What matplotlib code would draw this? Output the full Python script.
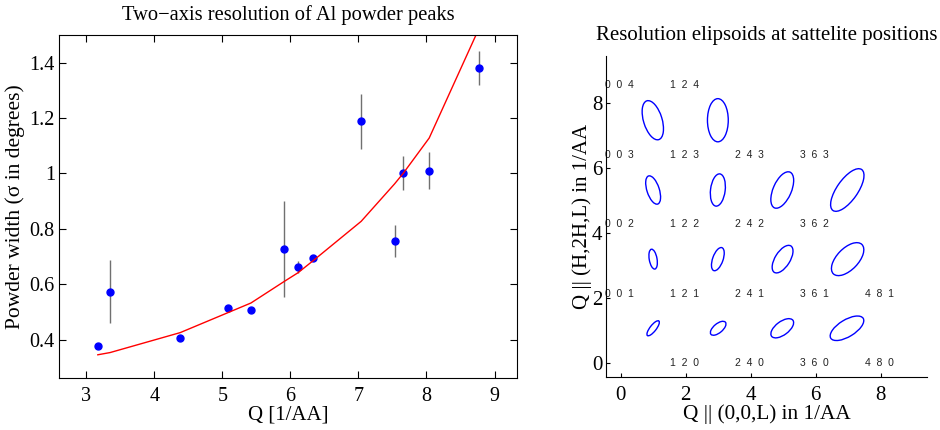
import numpy as np
from matplotlib import pyplot as plt
from matplotlib.patches import Ellipse

# --- left panel: powder peak widths ---
q_vals = [3.17, 3.35, 4.38, 5.09, 5.42, 5.91, 6.11, 6.33, 7.04, 7.53, 7.66, 8.04, 8.77]
width_meas = [0.377, 0.573, 0.404, 0.513, 0.507, 0.727, 0.662, 0.696, 1.188, 0.756, 1.001, 1.010, 1.381]
width_err = [0.005, 0.113, 0.004, 0.006, 0.006, 0.174, 0.020, 0.010, 0.098, 0.058, 0.061, 0.068, 0.062]
width_calc = [0.345, 0.353, 0.425, 0.498, 0.532, 0.610, 0.641, 0.684, 0.827, 0.962, 1.001, 1.128, 1.523]

# --- right panel: satellite labels and resolution ellipses ---
sat_labels = ["0  0  4", "1  2  4",
              "0  0  3", "1  2  3", "2  4  3", "3  6  3",
              "0  0  2", "1  2  2", "2  4  2", "3  6  2",
              "0  0  1", "1  2  1", "2  4  1", "3  6  1", "4  8  1",
              "1  2  0", "2  4  0", "3  6  0", "4  8  0"]
sat_x = [0, 2, 0, 2, 4, 6, 0, 2, 4, 6, 0, 2, 4, 6, 8, 2, 4, 6, 8]
sat_y = [8.54, 8.54, 6.41, 6.41, 6.41, 6.41, 4.27, 4.27, 4.27, 4.27,
         2.13, 2.13, 2.13, 2.13, 2.13, 0.0, 0.0, 0.0, 0.0]

ell_x = [1.00, 3.00, 4.97, 6.96,
         1.00, 2.99, 4.98, 6.98,
         1.00, 2.99, 4.97, 6.97,
         0.99, 2.99]
ell_y = [1.06, 1.06, 1.06, 1.06,
         3.19, 3.19, 3.19, 3.19,
         5.32, 5.32, 5.32, 5.32,
         7.47, 7.47]
ell_major = [0.57, 0.58, 0.82, 1.17,
             0.62, 0.75, 0.96, 1.26,
             0.91, 1.00, 1.20, 1.54,
             1.25, 1.33]
ell_minor = [0.19, 0.28, 0.41, 0.52,
             0.24, 0.32, 0.46, 0.66,
             0.38, 0.45, 0.56, 0.64,
             0.57, 0.64]
ell_angle = [52, 40, 37, 31.5,
             100, 70.5, 58, 46,
             108, 83, 66.5, 55,
             107, 90]

plt.rcParams['font.family'] = ['Liberation Serif', 'DejaVu Serif']

fig = plt.figure(figsize=(9.4, 4.3), dpi=100)

# left panel
ax1 = fig.add_axes([0.0628, 0.1202, 0.4872, 0.7984])
ax1.errorbar(q_vals, width_meas, yerr=width_err, fmt='none', ecolor='#707070', elinewidth=1)
ax1.plot(q_vals, width_meas, 'o', color='#0000ff', markersize=5)
ax1.plot(q_vals, width_calc, '-', color='#ff0000', linewidth=1)
ax1.set_xlim(2.6, 9.33)
ax1.set_ylim(0.26, 1.5)
ax1.set_xticks([3, 4, 5, 6, 7, 8, 9])
ax1.set_yticks([0.4, 0.6, 0.8, 1.0, 1.2, 1.4])
ax1.set_yticklabels(['0.4', '0.6', '0.8', '1', '1.2', '1.4'])
ax1.tick_params(direction='in', top=True, right=True, length=5, labelsize=14.5)
ax1.tick_params(axis='x', pad=6)
ax1.tick_params(axis='y', pad=3)
ax1.set_xlabel('Q [1/AA]', fontsize=15, labelpad=0)
ax1.set_ylabel('Powder width (σ in degrees)', fontsize=15.5, labelpad=3)
ax1.set_title('Two\u2212axis resolution of Al powder peaks', fontsize=14.8, pad=11)

# right panel
ax2 = fig.add_axes([0.645, 0.1226, 0.3415, 0.7465])
for x, y, w, h, a in zip(ell_x, ell_y, ell_major, ell_minor, ell_angle):
    ax2.add_patch(Ellipse((x, y), w, h, angle=a, fill=False, edgecolor='#0000ff', linewidth=1))
for s, x, y in zip(sat_labels, sat_x, sat_y):
    ax2.text(x - 0.03, y, s, ha='center', va='center', fontsize=7.5, color='#222222',
             family=['Liberation Sans', 'DejaVu Sans'], zorder=1)
ax2.set_xlim(-0.44, 9.43)
ax2.set_ylim(-0.45, 9.44)
ax2.set_xticks([0, 2, 4, 6, 8])
ax2.set_yticks([0, 2, 4, 6, 8])
ax2.spines['top'].set_visible(False)
ax2.spines['right'].set_visible(False)
ax2.tick_params(direction='in', length=3, labelsize=15)
ax2.tick_params(axis='x', pad=6)
ax2.tick_params(axis='y', pad=3)
ax2.set_xlabel('Q || (0,0,L) in 1/AA', fontsize=15.3, labelpad=0)
ax2.set_ylabel('Q || (H,2H,L) in 1/AA', fontsize=15, labelpad=0)
ax2.set_title('Resolution elipsoids at sattelite positions', fontsize=15, pad=12)

fig.savefig('out.png', dpi=100)
